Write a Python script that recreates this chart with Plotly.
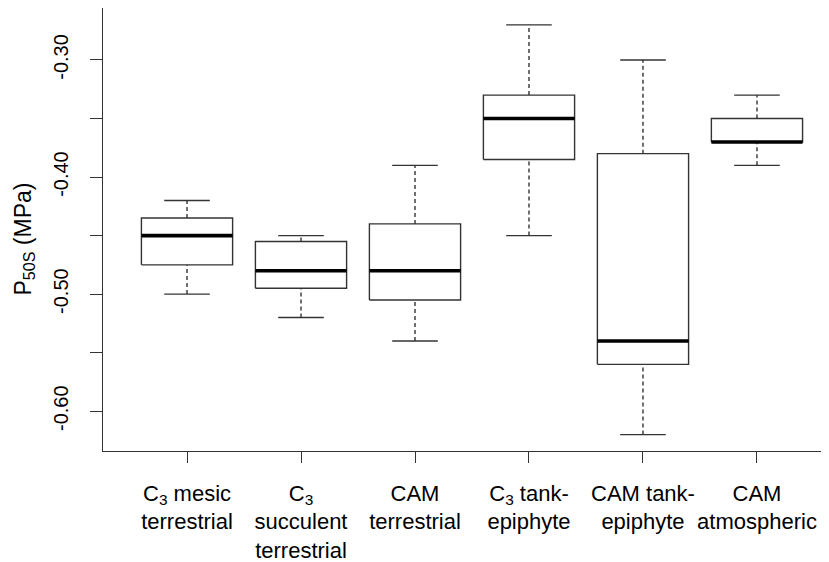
import plotly.graph_objects as go

# ---- data ----
categories = [
    "C<sub>3</sub> mesic<br>terrestrial",
    "C<sub>3</sub><br>succulent<br>terrestrial",
    "CAM<br>terrestrial",
    "C<sub>3</sub> tank-<br>epiphyte",
    "CAM tank-<br>epiphyte",
    "CAM<br>atmospheric",
]
whisker_low = [-0.50, -0.52, -0.54, -0.45, -0.62, -0.39]
q1 = [-0.475, -0.495, -0.505, -0.385, -0.56, -0.37]
median = [-0.45, -0.48, -0.48, -0.35, -0.54, -0.37]
q3 = [-0.435, -0.455, -0.44, -0.33, -0.38, -0.35]
whisker_high = [-0.42, -0.45, -0.39, -0.27, -0.30, -0.33]

y_tickvals = [-0.60, -0.50, -0.40, -0.30]
y_ticktext = ["-0.60", "-0.50", "-0.40", "-0.30"]
y_unlabelled_ticks = [-0.55, -0.45, -0.35]
y_title = "P<sub>50S</sub> (MPa)"

# ---- styles ----
BW = 0.4    # half box width
CW = 0.2    # half cap width
LINE = "#333333"
FONT = "Liberation Sans, Arial, sans-serif"

positions = list(range(1, len(categories) + 1))

box_x, box_y = [], []
med_x, med_y = [], []
wh_x, wh_y = [], []
cap_x, cap_y = [], []
for p, lo, a, m, b, hi in zip(positions, whisker_low, q1, median, q3, whisker_high):
    box_x += [p - BW, p + BW, p + BW, p - BW, p - BW, None]
    box_y += [a, a, b, b, a, None]
    med_x += [p - BW, p + BW, None]
    med_y += [m, m, None]
    wh_x += [p, p, None, p, p, None]
    wh_y += [b, hi, None, lo, a, None]
    cap_x += [p - CW, p + CW, None, p - CW, p + CW, None]
    cap_y += [hi, hi, None, lo, lo, None]

fig = go.Figure()
fig.add_trace(go.Scatter(x=wh_x, y=wh_y, mode="lines",
                         line=dict(color=LINE, width=1.4, dash="4px,3px"),
                         hoverinfo="skip", showlegend=False))
fig.add_trace(go.Scatter(x=cap_x, y=cap_y, mode="lines",
                         line=dict(color=LINE, width=1.4),
                         hoverinfo="skip", showlegend=False))
fig.add_trace(go.Scatter(x=box_x, y=box_y, mode="lines", fill="toself",
                         fillcolor="white",
                         line=dict(color=LINE, width=1.4),
                         hoverinfo="skip", showlegend=False))
fig.add_trace(go.Scatter(x=med_x, y=med_y, mode="lines",
                         line=dict(color="black", width=3.6),
                         hoverinfo="skip", showlegend=False))

fig.update_layout(
    width=829, height=562,
    margin=dict(l=95, r=0, t=0, b=119),
    paper_bgcolor="white", plot_bgcolor="white",
    font=dict(family=FONT, size=20, color="black"),
    showlegend=False,
)
fig.update_xaxes(
    range=[0.263, 6.702],
    tickvals=positions, ticktext=categories,
    ticks="outside", ticklen=11, tickwidth=1.3, tickcolor=LINE,
    ticklabelstandoff=11,
    showline=True, linecolor=LINE, linewidth=1.4, mirror=True,
    showgrid=False, zeroline=False,
    tickfont=dict(size=22, family=FONT, color="black"),
)
fig.update_yaxes(
    range=[-0.634, -0.2556],
    tickvals=y_tickvals, ticktext=y_ticktext,
    tickangle=-90,
    ticks="outside", ticklen=12, tickwidth=1.3, tickcolor=LINE,
    ticklabelstandoff=14,
    minor=dict(tickvals=y_unlabelled_ticks, ticks="outside", ticklen=12,
               tickwidth=1.3, tickcolor=LINE, showgrid=False),
    showline=True, linecolor=LINE, linewidth=1.4, mirror=True,
    showgrid=False, zeroline=False,
    tickfont=dict(size=20, family=FONT, color="black"),
)
fig.add_annotation(
    text=y_title, textangle=-90,
    xref="paper", yref="paper", x=0, y=0.5,
    xanchor="center", yanchor="middle",
    xshift=-79, yshift=-10, showarrow=False,
    font=dict(size=23, family=FONT, color="black"),
)

fig.write_html("out.html")
